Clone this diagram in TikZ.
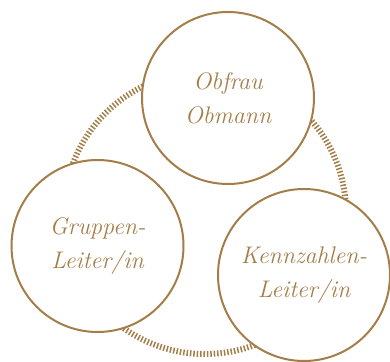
\documentclass[tikz,border=0pt]{standalone}
\usepackage{xcolor}
\usepackage{tikz}
\usetikzlibrary{backgrounds}
\definecolor{bronze}{RGB}{164,126,72}

\begin{document}
\begin{tikzpicture}[x=1pt,y=1pt,
                    role/.style={circle,draw=bronze,line width=2pt,fill=white,minimum size=172pt,inner sep=0pt,
                                 align=center,text=bronze,font=\fontsize{24}{34}\selectfont\itshape},
                    ring/.style={bronze,line width=6pt,dash pattern=on 1.5pt off 1.9pt}]
  \useasboundingbox (0,0) rectangle (390,361);
  \node[role] (obm) at (228,263) {Obfrau\\Obmann};
  \node[role] (grp) at (97.5,115) {Gruppen-\\Leiter/in};
  \node[role] (kzl) at (304,86) {Kennzahlen-\\Leiter/in};
  % dashed ring behind the three roles
  \begin{scope}[on background layer]
    \draw[ring] (205,148) circle[radius=141];
  \end{scope}
\end{tikzpicture}
\end{document}
